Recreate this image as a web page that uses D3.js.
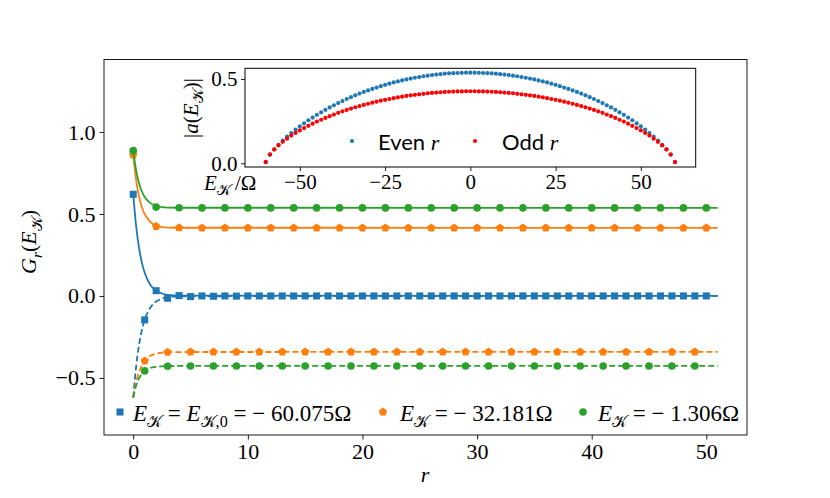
<!DOCTYPE html>
<html>
<head>
<meta charset="utf-8">
<script src="https://cdn.jsdelivr.net/npm/d3@7"></script>
<style>
  body { margin: 0; background: #fff; }
  svg { display: block; }
</style>
</head>
<body>
<svg id="chart" width="830" height="498"></svg>
<script>
// ---- main panel: G_r(E) at even (solid) and odd (dashed) sites ----
const rEven = [0,2,4,6,8,10,12,14,16,18,20,22,24,26,28,30,32,34,36,38,40,42,44,46,48,50];
const rOdd = [1,3,5,7,9,11,13,15,17,19,21,23,25,27,29,31,33,35,37,39,41,43,45,47,49];

const blueEven = [0.62,0.032,0.002,0,0,0,0,0,0,0,0,0,0,0,0,0,0,0,0,0,0,0,0,0,0,0];
const blueOdd = [-0.146,-0.014,-0.004,-0.002,-0.001,0,0,0,0,0,0,0,0,0,0,0,0,0,0,0,0,0,0,0,0];
const orangeEven = [0.86,0.424,0.416,0.415,0.415,0.415,0.415,0.415,0.415,0.415,0.415,0.415,0.415,0.415,0.415,0.415,0.415,0.415,0.415,0.415,0.415,0.415,0.415,0.415,0.415,0.415];
const orangeOdd = [-0.396,-0.343,-0.341,-0.341,-0.341,-0.341,-0.341,-0.341,-0.341,-0.341,-0.341,-0.341,-0.341,-0.341,-0.341,-0.341,-0.341,-0.341,-0.341,-0.341,-0.341,-0.341,-0.341,-0.341,-0.341];
const greenEven = [0.886,0.542,0.538,0.537,0.537,0.537,0.537,0.537,0.537,0.537,0.537,0.537,0.537,0.537,0.537,0.537,0.537,0.537,0.537,0.537,0.537,0.537,0.537,0.537,0.537,0.537];
const greenOdd = [-0.457,-0.429,-0.427,-0.427,-0.427,-0.427,-0.427,-0.427,-0.427,-0.427,-0.427,-0.427,-0.427,-0.427,-0.427,-0.427,-0.427,-0.427,-0.427,-0.427,-0.427,-0.427,-0.427,-0.427,-0.427];

// smooth guide curves
const curveR = [0,0.25,0.5,0.75,1,1.5,2,2.5,3,4,51];
const blueEvenCurve = [0.62,0.428,0.296,0.205,0.141,0.067,0.032,0.015,0.007,0.002,0];
const blueOddCurve = [-0.62,-0.432,-0.301,-0.209,-0.146,-0.071,-0.034,-0.017,-0.008,-0.002,0];
const orangeEvenCurve = [0.86,0.708,0.609,0.543,0.499,0.452,0.428,0.42,0.417,0.416,0.415];
const orangeOddCurve = [-0.62,-0.527,-0.465,-0.424,-0.396,-0.365,-0.352,-0.346,-0.343,-0.342,-0.341];
const greenEvenCurve = [0.886,0.767,0.689,0.637,0.603,0.566,0.55,0.542,0.539,0.538,0.537];
const greenOddCurve = [-0.62,-0.548,-0.503,-0.475,-0.457,-0.439,-0.432,-0.429,-0.428,-0.427,-0.427];

const xTicks = [0,10,20,30,40,50];
const yTicks = [-0.5,0,0.5,1.0];

// ---- inset: |a(E)| for even / odd r ----
const energy = [-60,-58.75,-57.5,-56.25,-55,-53.75,-52.5,-51.25,-50,-48.75,-47.5,-46.25,-45,-43.75,-42.5,-41.25,-40,-38.75,-37.5,-36.25,-35,-33.75,-32.5,-31.25,-30,-28.75,-27.5,-26.25,-25,-23.75,-22.5,-21.25,-20,-18.75,-17.5,-16.25,-15,-13.75,-12.5,-11.25,-10,-8.75,-7.5,-6.25,-5,-3.75,-2.5,-1.25,0,
  1.25,2.5,3.75,5,6.25,7.5,8.75,10,11.25,12.5,13.75,15,16.25,17.5,18.75,20,21.25,22.5,23.75,25,26.25,27.5,28.75,30,31.25,32.5,33.75,35,36.25,37.5,38.75,40,41.25,42.5,43.75,45,46.25,47.5,48.75,50,51.25,52.5,53.75,55,56.25,57.5,58.75,60];
const aEven = [0.006,0.050,0.082,0.109,0.135,0.158,0.179,0.200,0.219,0.237,0.255,0.271,0.287,0.302,0.317,0.331,0.344,0.357,0.369,0.381,0.392,0.403,0.413,0.423,0.432,0.441,0.449,0.457,0.465,0.472,0.479,0.485,0.491,0.497,0.502,0.507,0.511,0.516,0.519,0.523,0.526,0.528,0.531,0.533,0.534,0.535,0.536,0.537,0.537,
  0.537,0.536,0.535,0.534,0.533,0.531,0.528,0.526,0.523,0.519,0.516,0.511,0.507,0.502,0.497,0.491,0.485,0.479,0.472,0.465,0.457,0.449,0.441,0.432,0.423,0.413,0.403,0.392,0.381,0.369,0.357,0.344,0.331,0.317,0.302,0.287,0.271,0.255,0.237,0.219,0.200,0.179,0.158,0.135,0.109,0.082,0.050,0.006];
const aOdd = [0.008,0.053,0.082,0.106,0.127,0.146,0.164,0.180,0.195,0.209,0.222,0.235,0.247,0.258,0.269,0.279,0.289,0.299,0.308,0.316,0.324,0.332,0.339,0.346,0.353,0.359,0.365,0.371,0.376,0.381,0.386,0.391,0.395,0.399,0.403,0.406,0.409,0.412,0.415,0.417,0.419,0.421,0.423,0.424,0.425,0.426,0.426,0.427,0.427,
  0.427,0.426,0.426,0.425,0.424,0.423,0.421,0.419,0.417,0.415,0.412,0.409,0.406,0.403,0.399,0.395,0.391,0.386,0.381,0.376,0.371,0.365,0.359,0.353,0.346,0.339,0.332,0.324,0.316,0.308,0.299,0.289,0.279,0.269,0.258,0.247,0.235,0.222,0.209,0.195,0.180,0.164,0.146,0.127,0.106,0.082,0.053,0.008];
const insetXTicks = [-50,-25,0,25,50];
const insetYTicks = [0,0.5];

const K = "\u{1D4A6}"; // script K
const SERIF = "'Liberation Serif', 'DejaVu Serif', serif";
const SANS = "Lato, 'Noto Sans', sans-serif";
const EQ = "\u2005=\u2005";

const series = [
  {color: "#1f77b4", shape: "square", even: blueEven, odd: blueOdd, evenCurve: blueEvenCurve, oddCurve: blueOddCurve,
   label: [["E","i"],[K,"s"],[EQ,""],["E","i"],[K,"s"],[",0","s0"],[EQ + "\u2212 60.075\u03A9",""]], lx: 120, tx: 133},
  {color: "#ff7f0e", shape: "pentagon", even: orangeEven, odd: orangeOdd, evenCurve: orangeEvenCurve, oddCurve: orangeOddCurve,
   label: [["E","i"],[K,"s"],[EQ + "\u2212 32.181\u03A9",""]], lx: 383, tx: 400},
  {color: "#2ca02c", shape: "circle", even: greenEven, odd: greenOdd, evenCurve: greenEvenCurve, oddCurve: greenOddCurve,
   label: [["E","i"],[K,"s"],[EQ + "\u2212 1.306\u03A9",""]], lx: 583, tx: 598}
];

const svg = d3.select("#chart");

// marker path generator
function markerPath(shape) {
  if (shape === "square") return d3.symbol(d3.symbolSquare, 50)();
  if (shape === "circle") return d3.symbol(d3.symbolCircle, 46)();
  // pentagon, point up
  const R = 4.4;
  const pts = d3.range(5).map(k => {
    const a = -Math.PI / 2 + k * 2 * Math.PI / 5;
    return [R * Math.cos(a), R * Math.sin(a)];
  });
  return "M" + pts.map(p => p.join(",")).join("L") + "Z";
}

// text with italic / subscript pieces
function richText(parent, x, y, parts, size, opts) {
  opts = opts || {};
  const t = parent.append("text")
    .attr("x", x).attr("y", y)
    .attr("font-family", SERIF)
    .attr("font-size", size)
    .attr("fill", "#000")
    .attr("text-anchor", opts.anchor || "start");
  if (opts.rotate) t.attr("transform", `rotate(-90,${x},${y})`);
  let shift = 0;
  parts.forEach(([s, st]) => {
    const sub = st === "s" || st === "s0" || st === "si";
    const target = sub ? size * 0.26 : 0;
    const ts = t.append("tspan").text(s).attr("dy", target - shift);
    shift = target;
    if (sub) ts.attr("font-size", size * 0.7);
    if (st === "i" || st === "si") ts.attr("font-style", "italic");
    if (st === "sans") ts.attr("font-family", SANS);
  });
  return t;
}

// ---------------- main axes ----------------
const M = {left: 104, right: 747, top: 59.5, bottom: 435};
const x = d3.scaleLinear().domain([-2.55, 53.55]).range([M.left, M.right]);
const y = d3.scaleLinear().domain([-0.848, 1.442]).range([M.bottom, M.top]);

const main = svg.append("g");

const xAxis = main.append("g")
  .attr("transform", `translate(0,${M.bottom})`)
  .call(d3.axisBottom(x).tickValues(xTicks).tickFormat(d3.format("d")).tickSize(4.5).tickPadding(4).tickSizeOuter(0));
const yAxis = main.append("g")
  .attr("transform", `translate(${M.left},0)`)
  .call(d3.axisLeft(y).tickValues(yTicks).tickFormat(d3.format(".1f")).tickSize(4.5).tickPadding(4).tickSizeOuter(0));
[xAxis, yAxis].forEach(a => {
  a.select(".domain").remove();
  a.selectAll("text").attr("font-family", SERIF).attr("font-size", 22).attr("fill", "#000");
  a.selectAll("line").attr("stroke", "#000").attr("stroke-width", 0.9);
});

const line = d3.line().x(d => x(d[0])).y(d => y(d[1])).curve(d3.curveMonotoneX);

series.forEach(s => {
  const g = main.append("g");
  g.append("path")
    .datum(curveR.map((r, i) => [r, s.evenCurve[i]]))
    .attr("d", line).attr("fill", "none")
    .attr("stroke", s.color).attr("stroke-width", 1.8);
  g.append("path")
    .datum(curveR.map((r, i) => [r, s.oddCurve[i]]))
    .attr("d", line).attr("fill", "none")
    .attr("stroke", s.color).attr("stroke-width", 1.8)
    .attr("stroke-dasharray", "6,3");
  const pts = rEven.map((r, i) => [r, s.even[i]]).concat(rOdd.map((r, i) => [r, s.odd[i]]));
  g.selectAll(".m").data(pts).join("path")
    .attr("d", markerPath(s.shape))
    .attr("transform", d => `translate(${x(d[0])},${y(d[1])})`)
    .attr("fill", s.color);
});

main.append("rect")
  .attr("x", M.left).attr("y", M.top)
  .attr("width", M.right - M.left).attr("height", M.bottom - M.top)
  .attr("fill", "none").attr("stroke", "#000").attr("stroke-width", 0.9);

// legend
series.forEach(s => {
  main.append("path").attr("d", markerPath(s.shape))
    .attr("transform", `translate(${s.lx},412)`).attr("fill", s.color);
  richText(main, s.tx, 421, s.label, 23);
});

// axis labels
richText(main, 425, 482, [["r","i"]], 22, {anchor: "middle"});
richText(main, 36, 242, [["G","i"],["r","si"],["(",""],["E","i"],[K,"s"],[")",""]], 22, {anchor: "middle", rotate: true});

// ---------------- inset ----------------
const I = {left: 245, right: 695.7, top: 68.3, bottom: 167};
const ix = d3.scaleLinear().domain([-66.08, 66.08]).range([I.left, I.right]);
const iy = d3.scaleLinear().domain([-0.022, 0.563]).range([I.bottom, I.top]);

const inset = svg.append("g");
inset.append("rect")
  .attr("x", I.left).attr("y", I.top)
  .attr("width", I.right - I.left).attr("height", I.bottom - I.top)
  .attr("fill", "#fff");

const ixAxis = inset.append("g")
  .attr("transform", `translate(0,${I.bottom})`)
  .call(d3.axisBottom(ix).tickValues(insetXTicks).tickFormat(d3.format("d")).tickSize(4).tickPadding(3.5).tickSizeOuter(0));
const iyAxis = inset.append("g")
  .attr("transform", `translate(${I.left},0)`)
  .call(d3.axisLeft(iy).tickValues(insetYTicks).tickFormat(d3.format(".1f")).tickSize(4).tickPadding(3.5).tickSizeOuter(0));
[ixAxis, iyAxis].forEach(a => {
  a.select(".domain").remove();
  a.selectAll("text").attr("font-family", SERIF).attr("font-size", 21).attr("fill", "#000");
  a.selectAll("line").attr("stroke", "#000").attr("stroke-width", 0.9);
});

inset.selectAll(".even").data(energy).join("circle")
  .attr("cx", d => ix(d)).attr("cy", (d, i) => iy(aEven[i]))
  .attr("r", 2.1).attr("fill", "#1f77b4");
inset.selectAll(".odd").data(energy).join("circle")
  .attr("cx", d => ix(d)).attr("cy", (d, i) => iy(aOdd[i]))
  .attr("r", 2.1).attr("fill", "#ff0000");

inset.append("rect")
  .attr("x", I.left).attr("y", I.top)
  .attr("width", I.right - I.left).attr("height", I.bottom - I.top)
  .attr("fill", "none").attr("stroke", "#000").attr("stroke-width", 1);

// inset legend
inset.append("circle").attr("cx", 352).attr("cy", 141).attr("r", 2.1).attr("fill", "#1f77b4");
richText(inset, 378, 150, [["Even ","sans"],["r","i"]], 22);
inset.append("circle").attr("cx", 475).attr("cy", 141).attr("r", 2.1).attr("fill", "#ff0000");
richText(inset, 502, 150, [["Odd ","sans"],["r","i"]], 22);

// inset labels
richText(inset, 204, 190, [["E","i"],[K,"s"],["\u2009/\u03A9",""]], 21);
richText(inset, 198, 108, [["|",""],["a","i"],["(",""],["E","i"],[K,"s"],[")|",""]], 21, {anchor: "middle", rotate: true});
</script>
</body>
</html>
